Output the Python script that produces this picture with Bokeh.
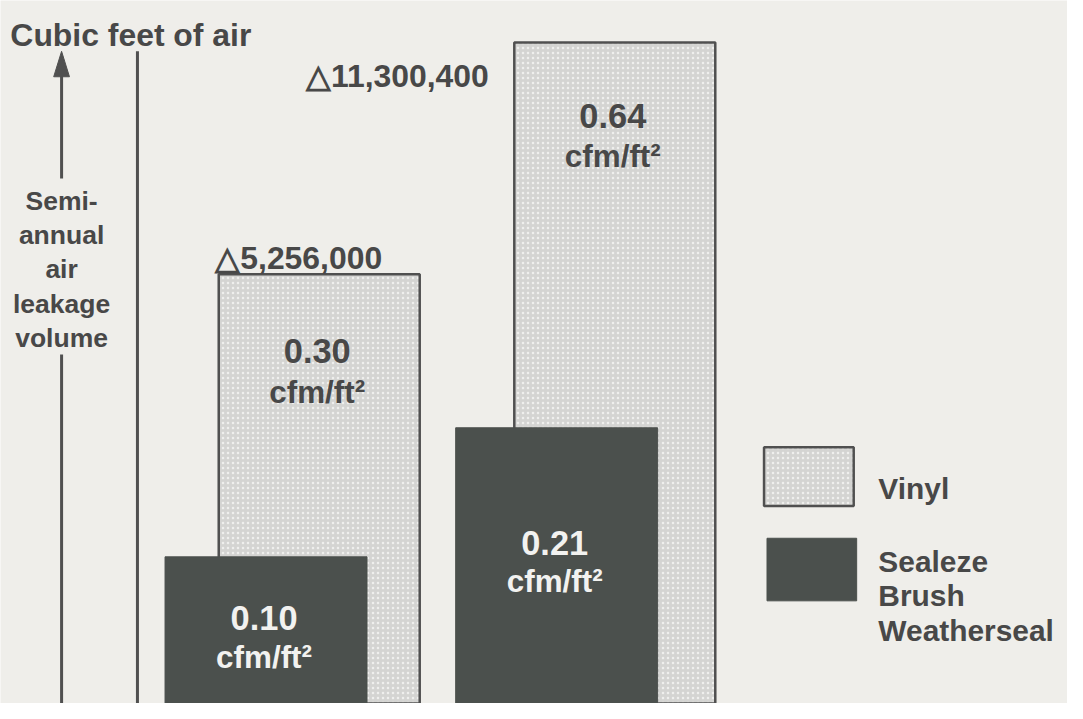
from bokeh.plotting import figure
from bokeh.models import Range1d, ColumnDataSource
from bokeh.core.properties import value
from bokeh.embed import file_html
from bokeh.resources import INLINE

# ---------------- data ----------------
series = ["Vinyl", "Sealeze Brush Weatherseal"]
vinyl_volume = [5256000, 11300400]          # semi-annual air leakage, cubic feet
vinyl_rate = [0.30, 0.64]                   # cfm/ft2
sealeze_rate = [0.10, 0.21]                 # cfm/ft2
# bar heights as drawn in the (schematic, not-to-scale) picture, in picture units
vinyl_bar_height = [439, 676]
sealeze_bar_height = [150, 282]

# ---------------- style / layout ----------------
BG = "#efeeea"
TXT = "#484848"
DARK = "#4b504d"
LIGHT = "#d4d4d2"
EDGE = "#505050"
FONT = value("Liberation Sans")

W, H = 1067, 703
REF_W, REF_H = 1083, 719
k = (W / REF_W + H / REF_H) / 2      # font scale


def fs(px):
    return f"{px * k:.1f}px"


p = figure(width=W, height=H, output_backend="svg", toolbar_location=None,
           x_range=Range1d(0, REF_W), y_range=Range1d(0, REF_H),
           min_border=0, background_fill_color=BG, border_fill_color=BG)
p.axis.visible = False
p.grid.visible = False
p.outline_line_color = None


def Y(img_y):
    return REF_H - img_y


vinyl_x = [323.5, 623.5]
sealeze_x = [269.5, 564.5]
bar_w = 204

vsrc = ColumnDataSource(dict(x=vinyl_x, top=vinyl_bar_height))
ssrc = ColumnDataSource(dict(x=sealeze_x, top=sealeze_bar_height))

p.vbar(x="x", top="top", bottom=-5, width=bar_w, source=vsrc,
       fill_color=LIGHT, line_color=EDGE, line_width=2.5,
       hatch_pattern="dot", hatch_color="#f6f6f4", hatch_scale=5,
       hatch_weight=1.5, hatch_alpha=0.8)
p.vbar(x="x", top="top", bottom=-5, width=bar_w + 1, source=ssrc,
       fill_color=DARK, line_color=DARK, line_width=1)

# vertical axis line
p.segment(x0=[139], y0=[-5], x1=[139], y1=[Y(52)], line_color=EDGE, line_width=3)

# arrow on the left
ax = 62
p.segment(x0=[ax, ax], y0=[Y(182), -5], x1=[ax, ax], y1=[Y(72), Y(362)],
          line_color=EDGE, line_width=3)
p.patch(x=[ax - 8, ax, ax + 8], y=[Y(78), Y(52), Y(78)],
        fill_color=EDGE, line_color=EDGE, line_width=1)

# title
p.text(x=[10], y=[Y(35)], text=["Cubic feet of air"], text_font=FONT,
       text_font_style="bold", text_font_size=fs(32.5), text_color=TXT,
       text_align="left", text_baseline="alphabetic")

# y-axis description
ylab = ["Semi-", "annual", "air", "leakage", "volume"]
p.text(x=[ax] * len(ylab), y=[Y(205 + 35 * i) for i in range(len(ylab))],
       text=ylab, text_font=FONT, text_font_style="bold", text_font_size=fs(27),
       text_color=TXT, text_align="center", text_baseline="alphabetic")

# volume labels above the vinyl bars
vol_txt = ["\u25b3" + f"{v:,}" for v in vinyl_volume]
vol_left = [218, 310]
p.text(x=vol_left, y=[vinyl_bar_height[0] + 17, vinyl_bar_height[1] - 34],
       text=vol_txt, text_font=FONT, text_font_style="bold", text_font_size=fs(32.5),
       text_color=TXT, text_align="left", text_baseline="alphabetic")


# rate labels inside bars
def rate_labels(xs, rates, num_base, unit_base, color):
    p.text(x=[x - 2 for x in xs], y=num_base, text=[f"{r:.2f}" for r in rates],
           text_font=FONT, text_font_style="bold", text_font_size=fs(35),
           text_color=color, text_align="center", text_baseline="alphabetic")
    p.text(x=[x - 2 for x in xs], y=unit_base, text=["cfm/ft\u00b2"] * len(xs),
           text_font=FONT, text_font_style="bold", text_font_size=fs(32),
           text_color=color, text_align="center", text_baseline="alphabetic")


rate_labels(vinyl_x, vinyl_rate, [Y(358), Y(118)], [Y(401), Y(160)], TXT)
rate_labels(sealeze_x, sealeze_rate, [Y(632), Y(555)], [Y(672), Y(594)], "#f2f2f0")

# legend
p.quad(left=[775], right=[866], top=[Y(457)], bottom=[Y(517)],
       fill_color=LIGHT, line_color=EDGE, line_width=2.5,
       hatch_pattern="dot", hatch_color="#f6f6f4", hatch_scale=5,
       hatch_weight=1.5, hatch_alpha=0.8)
p.quad(left=[778], right=[869], top=[Y(550)], bottom=[Y(614)],
       fill_color=DARK, line_color=DARK)
leg_lines = ["Vinyl", "Sealeze", "Brush", "Weatherseal"]
leg_y = [Y(499), Y(574), Y(609), Y(644)]
p.text(x=[891] * 4, y=leg_y, text=leg_lines, text_font=FONT, text_font_style="bold",
       text_font_size=fs(30.5), text_color=TXT, text_align="left",
       text_baseline="alphabetic")

open("out.html", "w").write(file_html(p, INLINE))
